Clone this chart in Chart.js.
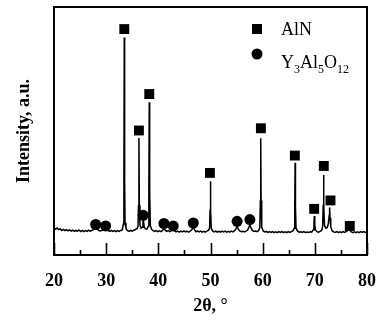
<!DOCTYPE html>
<html>
<head>
<meta charset="utf-8">
<script src="https://cdn.jsdelivr.net/npm/chart.js@4.4.0/dist/chart.umd.min.js"></script>
<style>
  html, body { margin: 0; padding: 0; background: #fff; }
</style>
</head>
<body>
<canvas id="xrd" width="381" height="322"></canvas>
<script>
// XRD trace, 2theta in degrees, intensity in arbitrary units
const twoTheta = [
  20.0, 20.3, 20.6, 20.9, 21.2, 21.5, 21.8, 22.1, 22.4, 22.7, 23.0, 23.3, 23.6, 23.9, 24.2, 24.5,
  24.8, 25.1, 25.4, 25.7, 26.0, 26.3, 26.6, 26.9, 27.2, 27.5, 27.8, 28.0, 28.2, 28.5, 28.8, 29.1,
  29.4, 29.7, 29.9, 30.1, 30.4, 30.7, 31.0, 31.3, 31.6, 31.9, 32.2, 32.5, 32.8, 33.1, 33.3, 33.4,
  33.47, 33.54, 33.62, 33.8, 34.1, 34.4, 34.7, 35.0, 35.3, 35.6, 35.9, 36.1, 36.2, 36.28, 36.36, 36.48,
  36.7, 36.9, 37.05, 37.15, 37.3, 37.5, 37.8, 38.05, 38.18, 38.26, 38.34, 38.47, 38.7, 39.0, 39.3, 39.6,
  39.9, 40.2, 40.5, 40.8, 41.07, 41.3, 41.6, 41.9, 42.2, 42.5, 42.86, 43.1, 43.4, 43.7, 44.0, 44.3,
  44.6, 44.9, 45.2, 45.5, 45.8, 46.1, 46.4, 46.7, 46.95, 47.2, 47.5, 47.8, 48.1, 48.4, 48.7, 49.0,
  49.3, 49.6, 49.82, 49.92, 49.98, 50.05, 50.15, 50.4, 50.7, 51.0, 51.3, 51.6, 51.9, 52.2, 52.5, 52.8,
  53.1, 53.4, 53.7, 54.0, 54.3, 54.6, 54.9, 55.1, 55.3, 55.6, 55.9, 56.2, 56.5, 56.8, 57.1, 57.35,
  57.55, 57.75, 58.0, 58.3, 58.6, 58.9, 59.2, 59.45, 59.56, 59.63, 59.7, 59.82, 60.1, 60.4, 60.7, 61.0,
  61.3, 61.6, 61.9, 62.2, 62.5, 62.8, 63.1, 63.4, 63.7, 64.0, 64.3, 64.6, 64.9, 65.2, 65.5, 65.8,
  66.05, 66.15, 66.22, 66.29, 66.4, 66.7, 67.0, 67.3, 67.6, 67.9, 68.2, 68.5, 68.8, 69.1, 69.4, 69.7,
  69.82, 69.9, 69.98, 70.1, 70.4, 70.7, 71.0, 71.3, 71.5, 71.6, 71.67, 71.74, 71.85, 72.1, 72.4, 72.6,
  72.75, 72.83, 72.91, 73.05, 73.3, 73.6, 73.9, 74.2, 74.5, 74.8, 75.1, 75.4, 75.7, 76.0, 76.3, 76.5,
  76.7, 77.0, 77.3, 77.6, 77.9, 78.2, 78.5, 78.8, 79.1, 79.4, 79.7, 80.0
];
const intensity = [
  10.8, 10.4, 10.9, 10.2, 10.5, 9.9, 10.3, 9.8, 10.2, 9.7, 10.1, 9.6, 10.0, 9.5, 9.9, 9.6,
  10.1, 9.5, 9.9, 9.4, 9.8, 9.5, 10.0, 9.6, 9.9, 10.1, 10.8, 11.3, 10.6, 10.0, 9.7, 9.9,
  10.1, 10.6, 11.0, 10.4, 9.8, 9.5, 9.9, 9.5, 9.8, 9.4, 9.8, 9.5, 9.9, 10.2, 12.5, 30,
  87.7, 30, 13, 10.6, 9.8, 9.5, 9.9, 9.6, 10.0, 10.3, 10.6, 11.5, 20, 47.2, 20, 12,
  10.8, 11.2, 13.5, 13.8, 11.2, 10.6, 10.4, 11.5, 25, 61.6, 25, 12, 10.4, 9.8, 9.5, 9.8,
  9.4, 9.7, 9.4, 9.9, 10.8, 10.0, 9.5, 9.8, 9.4, 9.8, 10.6, 9.8, 9.3, 9.6, 9.2, 9.6,
  9.3, 9.7, 9.3, 9.6, 9.2, 9.6, 10.2, 11.2, 10.1, 9.4, 9.7, 9.3, 9.6, 9.2, 9.5, 9.2,
  9.6, 9.9, 10.8, 18, 29.7, 18, 10.8, 9.7, 9.3, 9.6, 9.2, 9.5, 9.2, 9.6, 9.3, 9.6,
  9.2, 9.5, 9.2, 9.6, 9.3, 9.8, 10.6, 11.6, 10.5, 9.7, 9.4, 9.6, 9.3, 9.6, 10.0, 11.2,
  12.2, 11.0, 10.0, 9.5, 9.7, 9.4, 9.8, 11.0, 22, 47.1, 22, 11.2, 9.7, 9.3, 9.5, 9.1,
  9.4, 9.1, 9.4, 9.0, 9.3, 9.0, 9.4, 9.1, 9.4, 9.0, 9.3, 9.0, 9.4, 9.1, 9.4, 9.7,
  10.8, 19, 37.2, 19, 10.8, 9.6, 9.2, 9.4, 9.1, 9.4, 9.0, 9.3, 9.1, 9.4, 9.2, 10.2,
  12.5, 15.7, 12.5, 10.2, 9.4, 9.2, 9.5, 9.9, 11.5, 20, 32.3, 20, 12, 10.8, 11.2, 12.8,
  16, 19.2, 15, 11.5, 9.8, 9.3, 9.1, 9.4, 9.0, 9.3, 9.0, 9.4, 9.1, 9.4, 9.9, 11.0,
  10.0, 9.3, 9.0, 9.3, 9.0, 9.3, 9.0, 9.4, 9.1, 9.4, 9.1, 9.3
];

// phase markers placed above the peaks
const alnTheta = [33.47, 36.28, 38.26, 49.89, 59.66, 66.17, 69.87, 71.72, 73.0, 76.7];
const alnMark  = [91.1, 50.2, 64.9, 33.1, 51.1, 40.1, 18.6, 35.9, 22.0, 11.7];
const yagTheta = [27.99, 29.9, 37.1, 41.07, 42.86, 46.7, 55.1, 57.55];
const yagMark  = [12.3, 11.7, 16.0, 12.7, 11.7, 12.9, 13.6, 14.3];

const majorTicks = [20, 30, 40, 50, 60, 70, 80];
const minorTicks = [25, 35, 45, 55, 65, 75];

const serif = '"Liberation Serif", "Times New Roman", serif';

const toPoints = (xs, ys) => xs.map((x, i) => ({ x, y: ys[i] }));

const frameAndTicks = {
  id: 'frameAndTicks',
  afterDatasetsDraw(chart) {
    const { ctx, chartArea } = chart;
    const xScale = chart.scales.x;
    ctx.save();
    ctx.strokeStyle = '#000';
    ctx.lineWidth = 1.6;
    majorTicks.forEach(v => {
      const px = Math.round(xScale.getPixelForValue(v)) + 0.5;
      ctx.beginPath();
      ctx.moveTo(px, chartArea.bottom);
      ctx.lineTo(px, chartArea.bottom - 12);
      ctx.stroke();
    });
    minorTicks.forEach(v => {
      const px = Math.round(xScale.getPixelForValue(v)) + 0.5;
      ctx.beginPath();
      ctx.moveTo(px, chartArea.bottom);
      ctx.lineTo(px, chartArea.bottom - 5);
      ctx.stroke();
    });
    ctx.lineWidth = 2;
    ctx.strokeRect(chartArea.left, chartArea.top, chartArea.right - chartArea.left, chartArea.bottom - chartArea.top);
    ctx.restore();
  }
};

// legend with subscripts, which the built-in legend cannot do
const phaseLegend = {
  id: 'phaseLegend',
  afterDraw(chart) {
    const { ctx, chartArea } = chart;
    const mx = chartArea.left + 203;
    const tx = chartArea.left + 227;
    ctx.save();
    ctx.fillStyle = '#000';
    ctx.fillRect(mx - 5, chartArea.top + 17, 10, 10);
    ctx.beginPath();
    ctx.arc(mx, chartArea.top + 47, 5.5, 0, Math.PI * 2);
    ctx.fill();

    ctx.textBaseline = 'alphabetic';
    ctx.font = '18px ' + serif;
    ctx.fillText('AlN', tx, chartArea.top + 28);

    const parts = [['Y', false], ['3', true], ['Al', false], ['5', true], ['O', false], ['12', true]];
    let x = tx;
    const base = chartArea.top + 61;
    parts.forEach(([t, sub]) => {
      ctx.font = (sub ? '12px ' : '18px ') + serif;
      ctx.fillText(t, x, sub ? base + 5 : base);
      x += ctx.measureText(t).width;
    });
    ctx.restore();
  }
};

new Chart(document.getElementById('xrd'), {
  type: 'line',
  data: {
    datasets: [
      {
        label: 'XRD',
        data: toPoints(twoTheta, intensity),
        borderColor: '#000',
        borderWidth: 1.5,
        pointRadius: 0,
        tension: 0,
        fill: false
      },
      {
        label: 'AlN',
        type: 'scatter',
        data: toPoints(alnTheta, alnMark),
        pointStyle: 'rect',
        pointRadius: 7,
        pointBorderWidth: 0,
        backgroundColor: '#000',
        borderColor: '#000'
      },
      {
        label: 'Y3Al5O12',
        type: 'scatter',
        data: toPoints(yagTheta, yagMark),
        pointStyle: 'circle',
        pointRadius: 5.5,
        pointBorderWidth: 0,
        backgroundColor: '#000',
        borderColor: '#000'
      }
    ]
  },
  options: {
    responsive: false,
    animation: false,
    layout: { padding: { top: 5, right: 14, left: 0, bottom: 0 } },
    plugins: {
      legend: { display: false },
      tooltip: { enabled: false }
    },
    scales: {
      x: {
        type: 'linear',
        min: 20,
        max: 80,
        afterBuildTicks: scale => { scale.ticks = majorTicks.map(v => ({ value: v })); },
        afterFit: scale => {
          scale.height = 67;
          scale.paddingLeft = 0;
          scale.paddingRight = 0;
        },
        grid: { display: false, drawTicks: false },
        border: { display: false },
        ticks: {
          padding: 16,
          color: '#000',
          font: { family: serif, size: 18, weight: 'bold' }
        },
        title: {
          display: true,
          text: '2θ, °',
          color: '#000',
          padding: { top: 0, bottom: 5 },
          font: { family: serif, size: 18, weight: 'bold' }
        }
      },
      y: {
        min: 0,
        max: 100,
        afterFit: scale => { scale.width = 54; },
        grid: { display: false, drawTicks: false },
        border: { display: false },
        ticks: { display: false },
        title: {
          display: true,
          text: 'Intensity, a.u.',
          color: '#000',
          padding: { top: 14, bottom: 0 },
          font: { family: serif, size: 18, weight: 'bold' }
        }
      }
    }
  },
  plugins: [frameAndTicks, phaseLegend]
});
</script>
</body>
</html>
